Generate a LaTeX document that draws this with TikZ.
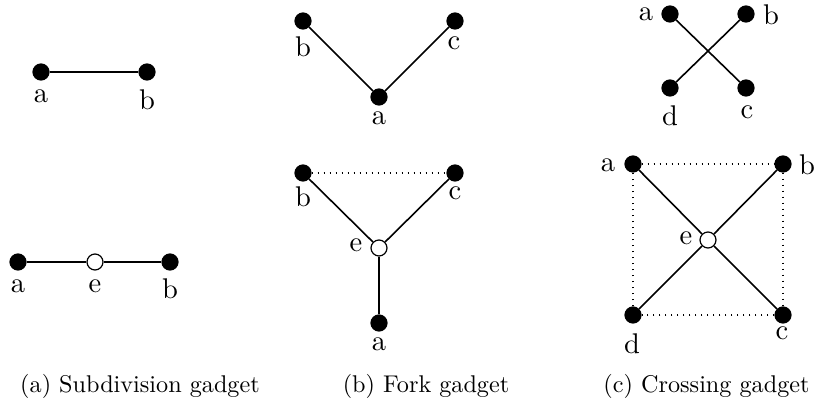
\documentclass[tikz,border=0pt]{standalone}
\begin{document}
\begin{tikzpicture}[x=1pt,y=-1pt,
  vtx/.style={circle,draw=black,fill=black,line width=1.2pt,inner sep=0pt,minimum size=16pt},
  hol/.style={circle,draw=black,fill=white,line width=1.2pt,inner sep=0pt,minimum size=16pt},
  edge/.style={line width=1.6pt},
  dotedge/.style={line width=1.1pt,dash pattern=on 1.1pt off 4.9pt},
  lab/.style={anchor=base,inner sep=0pt,scale=2.85},
  captext/.style={anchor=base,inner sep=0pt,scale=2.42}]
\useasboundingbox (0,0) rectangle (814,403);
% (a) top
\node[vtx] (a1) at (41,72) {};
\node[vtx] (b1) at (147,72) {};
\draw[edge] (a1) -- (b1);
\node[lab] (la1) at (41,103) {a};
\node[lab] (lb1) at (147,110) {b};
% (a) bottom
\node[vtx] (a2) at (18,262) {};
\node[hol] (e2) at (95,262) {};
\node[vtx] (b2) at (170,262) {};
\draw[edge] (a2) -- (e2) -- (b2);
\node[lab] (la2) at (18,293) {a};
\node[lab] (le2) at (95,293) {e};
\node[lab] (lb2) at (170,299) {b};
% (b) top
\node[vtx] (b3) at (303,21) {};
\node[vtx] (c3) at (455,21) {};
\node[vtx] (a3) at (379,97) {};
\draw[edge] (b3) -- (a3) -- (c3);
\node[lab] (lb3) at (303,57) {b};
\node[lab] (lc3) at (454,50) {c};
\node[lab] (la3) at (379,125) {a};
% (b) bottom
\node[vtx] (b4) at (303,173) {};
\node[vtx] (c4) at (455,173) {};
\node[hol] (e4) at (379,248) {};
\node[vtx] (a4) at (379,323) {};
\draw[dotedge] (b4) -- (c4);
\draw[edge] (b4) -- (e4) -- (c4);
\draw[edge] (e4) -- (a4);
\node[lab] (lb4) at (303,207) {b};
\node[lab] (lc4) at (455,200) {c};
\node[lab] (le4) at (356,252) {e};
\node[lab] (la4) at (379,351) {a};
% (c) top
\node[vtx] (a5) at (670,14) {};
\node[vtx] (b5) at (746,14) {};
\node[vtx] (d5) at (670,88) {};
\node[vtx] (c5) at (746,88) {};
\draw[edge] (a5) -- (c5);
\draw[edge] (b5) -- (d5);
\node[lab] (la5) at (646,20.5) {a};
\node[lab] (lb5) at (771,25) {b};
\node[lab] (ld5) at (670,126) {d};
\node[lab] (lc5) at (747,119) {c};
% (c) bottom
\node[vtx] (a6) at (633,164) {};
\node[vtx] (b6) at (783,164) {};
\node[vtx] (d6) at (633,315) {};
\node[vtx] (c6) at (783,315) {};
\node[hol] (e6) at (708,240) {};
\draw[dotedge] (a6) -- (b6);
\draw[dotedge] (b6) -- (c6);
\draw[dotedge] (c6) -- (d6);
\draw[dotedge] (d6) -- (a6);
\draw[edge] (a6) -- (e6) -- (c6);
\draw[edge] (b6) -- (e6) -- (d6);
\node[lab] (la6) at (608,172) {a};
\node[lab] (lb6) at (807,175) {b};
\node[lab] (le6) at (686,245) {e};
\node[lab] (ld6) at (632,353) {d};
\node[lab] (lc6) at (782,340) {c};
% captions
\node[captext] (capa) at (140,392) {(a) Subdivision gadget};
\node[captext] (capb) at (426,392) {(b) Fork gadget};
\node[captext] (capc) at (706.5,392) {(c) Crossing gadget};
\end{tikzpicture}
\end{document}
